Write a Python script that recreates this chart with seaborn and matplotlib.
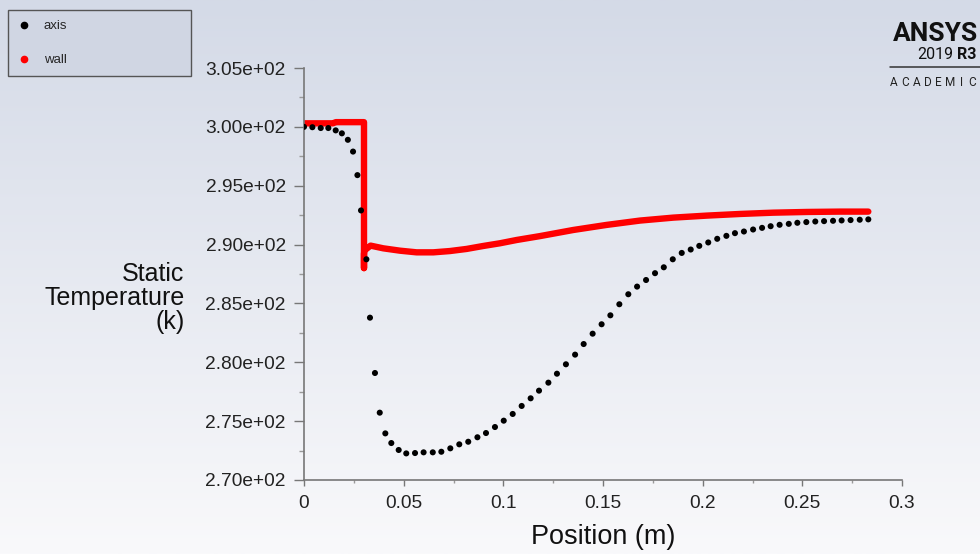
import numpy as np
import pandas as pd
import seaborn as sns
import matplotlib.pyplot as plt
from matplotlib.colors import LinearSegmentedColormap
from matplotlib.lines import Line2D
from matplotlib.ticker import MultipleLocator, FormatStrFormatter

# values
axis_x = [0, 0.0042, 0.0084, 0.0122, 0.0159, 0.019, 0.022, 0.0246, 0.0268, 0.0286, 0.0313,
          0.0331, 0.0356, 0.038, 0.0408, 0.0438, 0.0475, 0.0513, 0.0557, 0.060, 0.0646, 0.0689,
          0.0734, 0.0779, 0.0824, 0.087, 0.0913, 0.0958, 0.1002, 0.1047, 0.1092, 0.1137, 0.1179,
          0.1226, 0.1269, 0.1314, 0.136, 0.1403, 0.1448, 0.1493, 0.1537, 0.1582, 0.1627, 0.1671,
          0.1716, 0.1761, 0.1805, 0.1850, 0.1895, 0.1940, 0.1983, 0.2028, 0.2073, 0.2119, 0.2162,
          0.2207, 0.2253, 0.2298, 0.2341, 0.2386, 0.2432, 0.2475, 0.2520, 0.2565, 0.2609, 0.2654,
          0.2697, 0.2742, 0.2788, 0.2831]
axis_t = [300.0, 299.97, 299.9, 299.9, 299.7, 299.45, 298.9, 297.9, 295.9, 292.9, 288.75,
          283.79, 279.09, 275.72, 273.96, 273.14, 272.55, 272.26, 272.29, 272.35, 272.35, 272.4,
          272.69, 273.03, 273.25, 273.63, 273.99, 274.5, 275.04, 275.61, 276.29, 276.94, 277.59,
          278.27, 279.03, 279.83, 280.65, 281.55, 282.43, 283.23, 283.99, 284.93, 285.78, 286.43,
          286.99, 287.57, 288.07, 288.75, 289.29, 289.58, 289.89, 290.18, 290.49, 290.74, 290.97,
          291.11, 291.28, 291.42, 291.56, 291.68, 291.76, 291.85, 291.91, 291.96, 291.99, 292.02,
          292.05, 292.08, 292.11, 292.14]

wall_x = [0, 0.0145, 0.016, 0.0301, 0.0301, 0.0301, 0.0303, 0.0334, 0.0398, 0.0482, 0.0565,
          0.0649, 0.0732, 0.0816, 0.0899, 0.0983, 0.1067, 0.1184, 0.1351, 0.1518, 0.1686,
          0.1853, 0.2020, 0.2187, 0.2354, 0.2522, 0.2689, 0.2831]
wall_t = [300.3, 300.3, 300.4, 300.4, 288.0, 289.2, 289.5, 289.91, 289.68, 289.48, 289.34,
          289.34, 289.45, 289.63, 289.88, 290.11, 290.39, 290.72, 291.24, 291.67, 292.04,
          292.29, 292.46, 292.6, 292.71, 292.77, 292.8, 292.8]

axis_df = pd.DataFrame({'Position': axis_x, 'Temperature': axis_t})
wall_df = pd.DataFrame({'Position': wall_x, 'Temperature': wall_t})

sns.set_style('ticks')
plt.rcParams['font.family'] = ['Liberation Sans', 'DejaVu Sans']

W, H = 980, 554
fig = plt.figure(figsize=(W / 100, H / 100), dpi=100)

# background gradient
bg = fig.add_axes([0, 0, 1, 1], zorder=-10)
cmap = LinearSegmentedColormap.from_list('bg', ['#f9f9fb', '#d4dae7'])
bg.imshow(np.linspace(0, 1, 256).reshape(-1, 1), aspect='auto', cmap=cmap,
          extent=[0, 1, 0, 1], origin='lower')
bg.axis('off')

ax = fig.add_axes([304 / W, 1 - 480 / H, 598 / W, 412 / H])
ax.set_facecolor('none')

sns.lineplot(data=wall_df, x='Position', y='Temperature', sort=False, estimator=None,
             color='#ff0000', linewidth=4.6, solid_capstyle='round', solid_joinstyle='round',
             legend=False, ax=ax, zorder=2)
sns.scatterplot(data=axis_df, x='Position', y='Temperature', color='black', s=19,
                edgecolor='none', legend=False, ax=ax, zorder=3)

ax.set_xlim(0, 0.3)
ax.set_ylim(270, 305)
ax.xaxis.set_minor_locator(MultipleLocator(0.025))
ax.yaxis.set_major_locator(MultipleLocator(5))
ax.yaxis.set_minor_locator(MultipleLocator(2.5))
ax.yaxis.set_major_formatter(FormatStrFormatter('%.2e'))
ax.set_xticks([0, 0.05, 0.1, 0.15, 0.2, 0.25, 0.3])
ax.set_xticklabels(['0', '0.05', '0.1', '0.15', '0.2', '0.25', '0.3'])

sns.despine(ax=ax)
for s in ['left', 'bottom']:
    ax.spines[s].set_color('#777777')
    ax.spines[s].set_linewidth(1.2)
ax.tick_params(axis='y', which='major', length=7, width=1, color='#777777',
               labelsize=13.8, labelcolor='#222222', pad=6)
ax.tick_params(axis='y', which='minor', length=3.5, width=1, color='#999999')
ax.tick_params(axis='x', which='major', length=4.5, width=1, color='#777777',
               labelsize=13.8, labelcolor='#222222', pad=6)
ax.tick_params(axis='x', which='minor', length=2.5, width=1, color='#999999')

ax.set_xlabel('Position (m)', fontsize=19.5, color='#111111', va='center')
ax.xaxis.set_label_coords(0.5, -0.138)
ax.set_ylabel('Static\nTemperature\n(k)', fontsize=18, color='#111111', rotation=0,
              ha='right', va='center', multialignment='right', linespacing=1.02)
ax.yaxis.set_label_coords(-0.2, 0.442)

handles = [Line2D([], [], marker='o', color='black', linestyle='none', markersize=4.5),
           Line2D([], [], marker='o', color='#ff0000', linestyle='none', markersize=4.5)]
leg = ax.legend(handles, ['axis', 'wall'], loc='upper left',
                bbox_to_anchor=(8 / W, 1 - 77 / H, 183 / W, 67 / H),
                bbox_transform=fig.transFigure, mode='expand', borderaxespad=0,
                fontsize=9.5, borderpad=0.75, labelspacing=1.65, handlelength=1.0,
                handletextpad=0.95, fancybox=False, framealpha=1)
leg.get_frame().set_facecolor('#d0d6e3')
leg.get_frame().set_edgecolor('#555555')
leg.get_frame().set_linewidth(1.0)

# ANSYS logo text
def px(x, y):
    return x / W, 1 - y / H

fig.text(*px(893, 34), 'ANSYS', fontsize=19, fontweight='bold', family='Roboto',
         ha='left', va='center', color='#111111')
fig.text(*px(953, 54), '2019', fontsize=11.5, family='Roboto', ha='right', va='center',
         color='#111111')
fig.text(*px(957, 54), 'R3', fontsize=11.5, family='Roboto', fontweight='bold',
         ha='left', va='center', color='#111111')
fig.add_artist(Line2D([890 / W, 1], [1 - 67 / H, 1 - 67 / H], color='#333333',
                      linewidth=1.1, transform=fig.transFigure))
for i, ch in enumerate('ACADEMIC'):
    fig.text(*px(894 + i * 11.2, 83), ch, fontsize=8.5, family='Roboto', ha='center',
             va='center', color='#222222')

plt.savefig('out.png', dpi=100)
